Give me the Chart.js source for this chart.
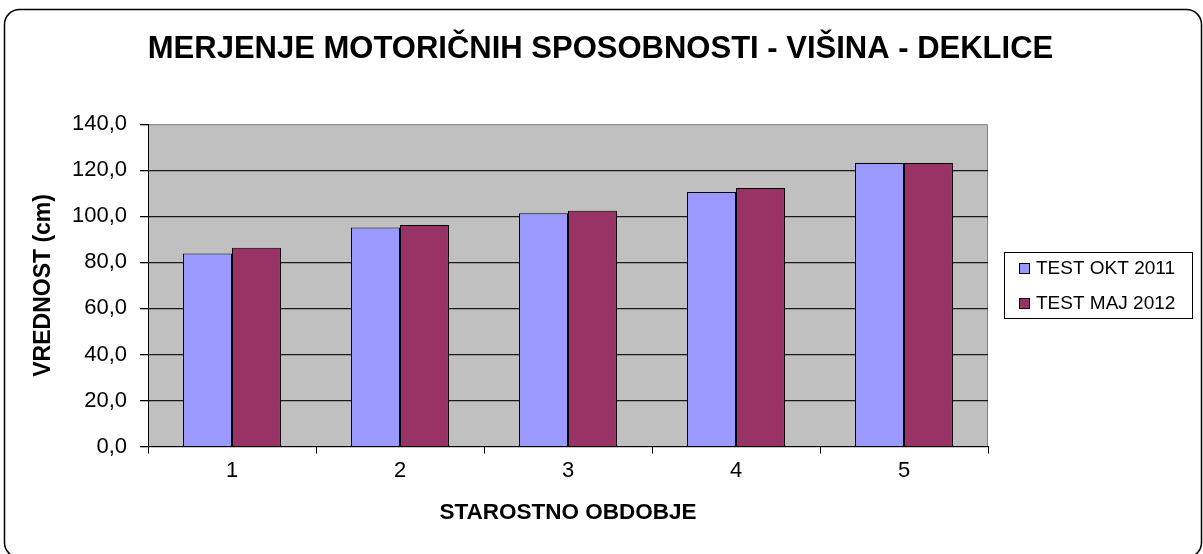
<!DOCTYPE html>
<html>
<head>
<meta charset="utf-8">
<script src="https://cdn.jsdelivr.net/npm/chart.js@4.4.1/dist/chart.umd.min.js"></script>
<style>
html,body{margin:0;padding:0;background:#fff;}
#wrap{width:1203px;height:554px;position:relative;}
</style>
</head>
<body>
<div id="wrap"><canvas id="c" width="1203" height="554"></canvas></div>
<script>
const categories = ['1', '2', '3', '4', '5'];
const seriesOkt2011 = [83.8, 95.1, 101.3, 110.6, 123.1];
const seriesMaj2012 = [86.4, 96.2, 102.4, 112.3, 123.1];
const seriesNames = ['TEST OKT 2011', 'TEST MAJ 2012'];
const chartTitle = 'MERJENJE MOTORIČNIH SPOSOBNOSTI - VIŠINA - DEKLICE';
const yTitle = 'VREDNOST (cm)';
const xTitle = 'STAROSTNO OBDOBJE';
const yMin = 0, yMax = 140, yStep = 20;

const FONT = "'Liberation Sans', Arial, sans-serif";

const framePlugin = {
  id: 'frame',
  afterLayout(chart) {
    if (chart.titleBlock) {
      chart.titleBlock.left = 0;
      chart.titleBlock.right = 1201;
    }
  },
  beforeDraw(chart) {
    const ctx = chart.ctx;
    const a = chart.chartArea;
    ctx.save();
    ctx.strokeStyle = '#000';
    ctx.lineWidth = 1.5;
    ctx.beginPath();
    ctx.roundRect(4.5, 9.5, 1197, 548, 15);
    ctx.stroke();
    ctx.fillStyle = '#C0C0C0';
    ctx.fillRect(a.left, a.top, a.right - a.left, a.bottom - a.top);
    ctx.strokeStyle = '#808080';
    ctx.lineWidth = 1;
    ctx.beginPath();
    ctx.moveTo(a.left, a.top + 0.5);
    ctx.lineTo(a.right - 0.5, a.top + 0.5);
    ctx.lineTo(a.right - 0.5, a.bottom);
    ctx.stroke();
    ctx.restore();
  },
  afterDraw(chart) {
    const ctx = chart.ctx;
    const bx = 1004.5, by = 252.5, bw = 188, bh = 66;
    ctx.save();
    ctx.fillStyle = '#fff';
    ctx.fillRect(bx, by, bw, bh);
    ctx.strokeStyle = '#000';
    ctx.lineWidth = 1;
    ctx.strokeRect(bx, by, bw, bh);
    ctx.font = '19px ' + FONT;
    ctx.textBaseline = 'middle';
    ctx.textAlign = 'left';
    chart.data.datasets.forEach((ds, i) => {
      const cy = 268 + i * 35;
      ctx.fillStyle = ds.backgroundColor;
      ctx.fillRect(1019, cy - 5, 10, 10);
      ctx.strokeStyle = '#000';
      ctx.strokeRect(1019.5, cy - 4.5, 10, 10);
      ctx.fillStyle = '#000';
      ctx.fillText(ds.label, 1036, cy + 1);
    });
    ctx.restore();
  }
};

new Chart(document.getElementById('c'), {
  type: 'bar',
  data: {
    labels: categories,
    datasets: [
      { label: seriesNames[0], data: seriesOkt2011, backgroundColor: '#9999FF', borderColor: '#000', borderWidth: 1 },
      { label: seriesNames[1], data: seriesMaj2012, backgroundColor: '#993366', borderColor: '#000', borderWidth: 1 }
    ]
  },
  options: {
    responsive: false,
    animation: false,
    devicePixelRatio: 1,
    layout: { padding: { left: 20, right: 215, top: 0, bottom: 20 } },
    datasets: { bar: { categoryPercentage: 0.583, barPercentage: 1.0 } },
    plugins: {
      legend: { display: false },
      tooltip: { enabled: false },
      title: {
        display: true,
        text: chartTitle,
        color: '#000',
        font: { family: FONT, size: 31, weight: 'bold' },
        padding: { top: 31, bottom: 56 }
      }
    },
    scales: {
      x: {
        offset: true,
        grid: { display: true, drawOnChartArea: false, drawTicks: true, tickLength: 7, color: '#000', offset: true },
        border: { display: true, color: '#000', width: 1 },
        ticks: { color: '#000', font: { family: FONT, size: 22 }, padding: 4, maxRotation: 0 },
        title: { display: true, text: xTitle, color: '#000', font: { family: FONT, size: 22.5, weight: 'bold' }, padding: { top: 11, bottom: 8 } }
      },
      y: {
        min: yMin, max: yMax,
        afterFit(scale) { scale.width = 128; },
        grid: {
          color: (c) => (c.tick && c.tick.value === yMax ? 'rgba(0,0,0,0)' : '#1a1a1a'),
          tickColor: '#000',
          tickLength: 8,
          lineWidth: 1.3
        },
        border: { display: true, color: '#000', width: 1 },
        ticks: {
          stepSize: yStep,
          color: '#000',
          font: { family: FONT, size: 22 },
          padding: 13,
          callback: (v) => v.toFixed(1).replace('.', ',')
        },
        title: { display: true, text: yTitle, color: '#000', font: { family: FONT, size: 23, weight: 'bold' }, padding: { top: 10, bottom: 0 } }
      }
    }
  },
  plugins: [framePlugin]
});
</script>
</body>
</html>
